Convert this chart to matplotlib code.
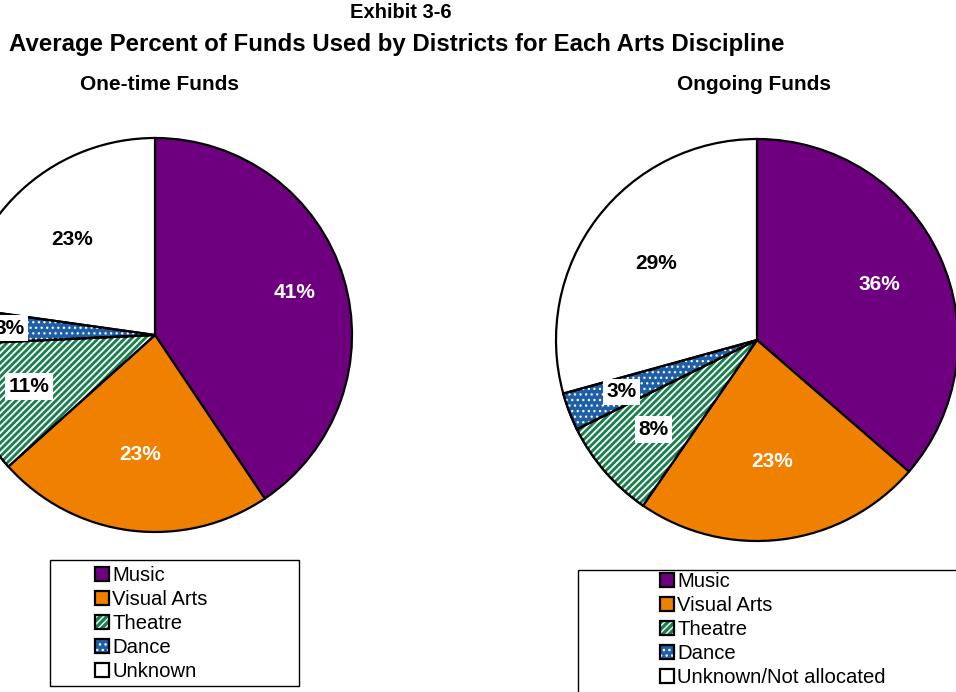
import numpy as np
import matplotlib
matplotlib.use("Agg")
import matplotlib.pyplot as plt
from matplotlib.patches import Patch, Rectangle, Wedge
from matplotlib.legend_handler import HandlerTuple

plt.rcParams['font.family'] = ['Liberation Sans', 'DejaVu Sans']

# Data
categories = ["Music", "Visual Arts", "Theatre", "Dance", "Unknown"]
categories_ongoing = ["Music", "Visual Arts", "Theatre", "Dance", "Unknown/Not allocated"]
one_time = [41, 23, 11, 3, 23]
ongoing = [36, 23, 8, 3, 29]

# Styles
face_colors = ["#6E0080", "#F08000", "#1B8050", "#1F5FA6", "#FFFFFF"]
hatches = [None, None, "/////", "...", None]
hatch_widths = [1.0, 1.0, 1.3, 0.9, 1.0]
label_colors = ["white", "white", "black", "black", "black"]
label_boxed = [False, False, True, True, False]

W, H = 956, 692
fig = plt.figure(figsize=(W / 100, H / 100), dpi=100)
ax = fig.add_axes([0, 0, 1, 1])
ax.set_xlim(0, W)
ax.set_ylim(0, H)
ax.set_aspect("equal")
ax.axis("off")


def hatched_overlay(w, h, lw):
    with plt.rc_context({'hatch.linewidth': lw}):
        overlay = Wedge(w.center, w.r, w.theta1, w.theta2, facecolor="none",
                        edgecolor="white", hatch=h, linewidth=0)
    return overlay


def draw_pie(values, center, radius, label_dist):
    wedges, _ = ax.pie(values, center=center, radius=radius, startangle=90,
                       counterclock=False, colors=face_colors,
                       wedgeprops=dict(edgecolor="black", linewidth=1.6))
    ax.set_xlim(0, W)
    ax.set_ylim(0, H)
    for w, h, lw in zip(wedges, hatches, hatch_widths):
        if h:
            ax.add_patch(hatched_overlay(w, h, lw))
            outline = Wedge(w.center, w.r, w.theta1, w.theta2, facecolor="none",
                            edgecolor="black", linewidth=1.6)
            ax.add_patch(outline)
    for w, v, c, boxed, d in zip(wedges, values, label_colors, label_boxed, label_dist):
        mid = np.deg2rad((w.theta1 + w.theta2) / 2)
        x = center[0] + d * radius * np.cos(mid)
        y = center[1] + d * radius * np.sin(mid)
        bbox = dict(facecolor="white", edgecolor="none", pad=2.5) if boxed else None
        ax.text(x, y, f"{v}%", ha="center", va="center", fontsize=15,
                fontweight="bold", color=c, bbox=bbox, zorder=5)


draw_pie(one_time, (155, H - 335), 197, [0.74, 0.61, 0.69, 0.74, 0.64])
draw_pie(ongoing, (757, H - 340), 201, [0.67, 0.61, 0.68, 0.72, 0.63])

# Titles
fig.text(401 / W, 1 - 13 / H, "Exhibit 3-6", ha="center", va="center",
         fontsize=14.5, fontweight="bold")
fig.text(397 / W, 1 - 44 / H,
         "Average Percent of Funds Used by Districts for Each Arts Discipline",
         ha="center", va="center", fontsize=17.3, fontweight="bold")
fig.text(160 / W, 1 - 85 / H, "One-time Funds", ha="center", va="center",
         fontsize=15, fontweight="bold")
fig.text(754 / W, 1 - 85 / H, "Ongoing Funds", ha="center", va="center",
         fontsize=15, fontweight="bold")


def handles_for():
    # Each legend key: filled square, optional white hatch, black outline on top
    hs = []
    for fc, h, lw in zip(face_colors, hatches, hatch_widths):
        parts = [Patch(facecolor=fc, edgecolor="none", linewidth=0)]
        if h:
            with plt.rc_context({'hatch.linewidth': lw}):
                parts.append(Patch(facecolor="none", edgecolor="white",
                                   hatch=h, linewidth=0))
        parts.append(Patch(facecolor="none", edgecolor="black", linewidth=1.6))
        hs.append(tuple(parts))
    return hs


# Legend frames
ax.add_patch(Rectangle((50, H - 686), 249, 126, facecolor="white",
                       edgecolor="black", linewidth=1.0, zorder=3))
ax.add_patch(Rectangle((578, H - 700), 390, 130, facecolor="white",
                       edgecolor="black", linewidth=1.0, zorder=3,
                       clip_on=False))

legend_kw = dict(loc="upper left", frameon=False, fontsize=14.6,
                 handlelength=0.68, handleheight=0.68, handletextpad=0.18,
                 labelspacing=0.25, borderpad=0, borderaxespad=0,
                 handler_map={tuple: HandlerTuple(ndivide=1, pad=0)})
leg1 = ax.legend(handles_for(), categories,
                 bbox_to_anchor=(95 / W, 1 - 566 / H), **legend_kw)
ax.add_artist(leg1)
leg2 = ax.legend(handles_for(), categories_ongoing,
                 bbox_to_anchor=(660 / W, 1 - 572 / H), **legend_kw)
for leg in (leg1, leg2):
    leg.set_zorder(6)

fig.savefig("out.png", dpi=100)
